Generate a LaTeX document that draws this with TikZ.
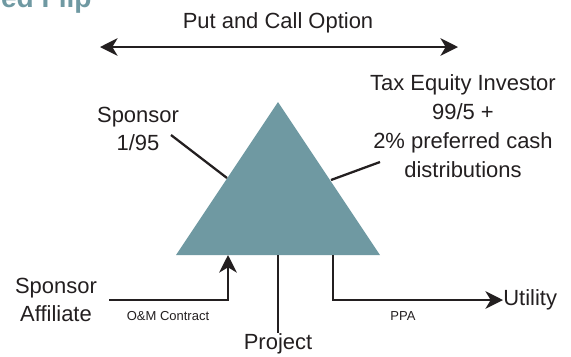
\documentclass[tikz,border=0pt]{standalone}
\usepackage{fontspec}
\setmainfont{Liberation Sans}
\usetikzlibrary{arrows.meta}

\definecolor{flipteal}{HTML}{6F99A2}
\definecolor{ink}{HTML}{231F20}

\begin{document}
\begin{tikzpicture}[x=0.02cm,y=-0.02cm,
		lbl/.style={text=ink,align=center,inner sep=0pt,font=\fontsize{12.5}{16.4}\selectfont},
		small/.style={text=ink,inner sep=0pt,font=\fontsize{7.4}{9}\selectfont},
		wire/.style={draw=ink,line width=1.3pt},
		tip/.style={-{Stealth[length=10pt,width=10pt,inset=3pt]}}]
				\useasboundingbox (0,0) rectangle (571,356);
				\clip (0,0) rectangle (571,356);
				% cut-off heading
				\node[anchor=base east,inner sep=0pt,text=flipteal,font=\fontsize{16}{18}\selectfont\bfseries] (head) at (92,7) {ed Flip};
				% put / call
				\node[lbl] (put) at (278,23) {Put and Call Option};
				\coordinate (optL) at (100,47);
				\coordinate (optR) at (458,47);
				\draw[wire,{Stealth[length=10pt,width=10pt,inset=3pt]}-{Stealth[length=10pt,width=10pt,inset=3pt]}] (optL) -- (optR);
				% project triangle
				\coordinate (apex) at (278,102);
				\coordinate (baseL) at (176,255);
				\coordinate (baseR) at (380,255);
				\fill[flipteal] (apex) -- (baseL) -- (baseR) -- cycle;
				% owners
				\node[lbl] (spon) at (138,129) {Sponsor\\1/95};
				\coordinate (sponA) at (171,135);
				\coordinate (sponB) at (227,178);
				\draw[wire] (sponA) -- (sponB);
				\node[lbl] (tei) at (463,126) {Tax Equity Investor\\99/5 +\\2\% preferred cash\\distributions};
				\coordinate (teiA) at (380,162);
				\coordinate (teiB) at (331,180);
				\draw[wire] (teiA) -- (teiB);
				% contracts
				\node[lbl] (aff) at (56,300) {Sponsor\\Affiliate};
				\coordinate (omA) at (109,300);
				\coordinate (omB) at (228,255);
				\draw[wire,tip] (omA) -| (omB);
				\node[small] (om) at (168,316) {O\&M Contract};
				\coordinate (projA) at (278,255);
				\node[lbl,anchor=north] (proj) at (278,333) {Project};
				\draw[wire] (projA) -- (proj.north);
				\coordinate (ppaA) at (333,255);
				\node[lbl,anchor=west] (util) at (503,300) {Utility};
				\draw[wire,tip] (ppaA) |- (util.west);
				\node[small] (ppa) at (403,316) {PPA};
			\end{tikzpicture}
\end{document}
